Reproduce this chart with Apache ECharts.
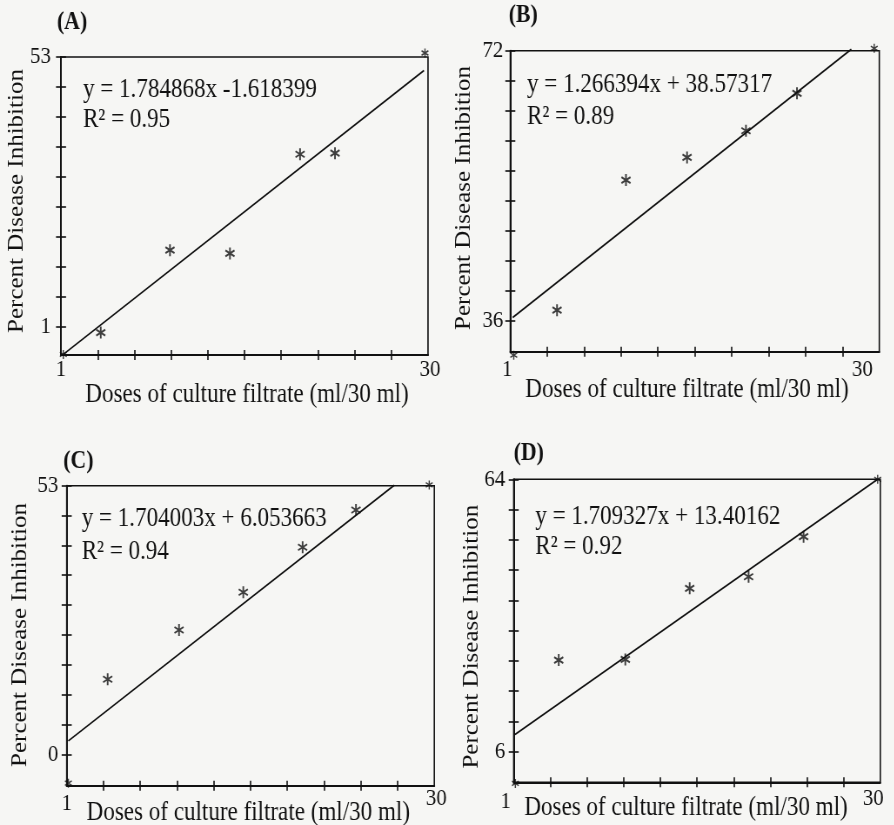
<!DOCTYPE html>
<html>
<head>
<meta charset="utf-8">
<script src="https://cdn.jsdelivr.net/npm/echarts@6/dist/echarts.min.js"></script>
<style>
html,body{margin:0;padding:0;background:#f6f6f4;overflow:hidden;}
#wrap{width:894px;height:825px;overflow:hidden;position:relative;}
#chart{height:825px;transform-origin:0 0;}
</style>
</head>
<body>
<div id="wrap"><div id="chart"></div></div>
<script>
// ---- data ----
const panelTitles = ['(A)', '(B)', '(C)', '(D)'];
const equations = ['y = 1.784868x -1.618399', 'y = 1.266394x + 38.57317', 'y = 1.704003x + 6.053663', 'y = 1.709327x + 13.40162'];
const rSquared = ['R\u00b2 = 0.95', 'R\u00b2 = 0.89', 'R\u00b2 = 0.94', 'R\u00b2 = 0.92'];

const xTickLabels = [1, 30];
const yTickLabelsA = [1, 53];
const yTickLabelsB = [36, 72];
const yTickLabelsC = [0, 53];
const yTickLabelsD = [6, 64];

const doseA = [1.18, 4.14, 9.61, 14.35, 19.89, 22.65, 29.76];
const inhibA = [-4.28, -0.09, 15.8, 15.16, 34.27, 34.47, 53.77];
const trendDoseA = [1.18, 29.68];
const trendInhibA = [-4.28, 50.41];

const doseB = [1.27, 4.67, 10.09, 14.89, 19.52, 23.53, 29.6];
const inhibB = [31.33, 37.35, 54.72, 57.75, 61.31, 66.31, 72.32];
const trendDoseB = [1.19, 27.8];
const trendInhibB = [36.37, 72.2];

const doseC = [1.13, 4.23, 9.86, 14.93, 19.61, 23.82, 29.6];
const inhibC = [-5.71, 14.81, 24.53, 31.97, 40.85, 48.21, 53.14];
const trendDoseC = [1.13, 26.84];
const trendInhibC = [2.64, 53.1];

const doseD = [1.13, 4.56, 9.83, 14.92, 19.58, 23.93, 29.79];
const inhibD = [-0.75, 25.52, 25.66, 40.79, 43.26, 51.78, 64];
const trendDoseD = [1.1, 29.79];
const trendInhibD = [9.69, 64];

const xName = 'Doses of culture filtrate (ml/30 ml)';
const yName = 'Percent Disease Inhibition';

// ---- layout ----
const S = 0.87; // horizontal squeeze of the scanned figure
const W = 894 / S;
document.getElementById('chart').style.width = W + 'px';
document.getElementById('chart').style.transform = 'scaleX(' + S + ')';

const FONT = 'Liberation Serif';
const INK = '#111111';
const STAR = 'path://M-16,-100L16,-100L16,100L-16,100Z M79,-64L95,-36L-79,64L-95,36Z M-95,-36L-79,-64L95,36L79,64Z';

const panels = [
  {dose: doseA, inhib: inhibA, tx: trendDoseA, ty: trendInhibA, yl: yTickLabelsA, yMin: -4.4, yMax: 53,
   L: 61, R: 428, T: 57, B: 355, titleXY: [57, 23], eqXY: [83, 90], r2Y: 120,
   ylMargin: 10, xl1: [0, 15], xl30: [2, 15], xNameXY: [247, 395], yNameXY: [17, 201]},
  {dose: doseB, inhib: inhibB, tx: trendDoseB, ty: trendInhibB, yl: yTickLabelsB, yMin: 31.8, yMax: 72,
   L: 510.3, R: 879.3, T: 50.7, B: 351.7, titleXY: [508.7, 16], eqXY: [527, 85], r2Y: 116.7,
   ylMargin: 7, xl1: [-3, 18.3], xl30: [-17, 18.3], xNameXY: [687, 390], yNameXY: [463.7, 198]},
  {dose: doseC, inhib: inhibC, tx: trendDoseC, ty: trendInhibC, yl: yTickLabelsC, yMin: -6.2, yMax: 53,
   L: 66.7, R: 434.3, T: 485.7, B: 785.7, titleXY: [63.3, 462], eqXY: [81.7, 518.3], r2Y: 551.7,
   ylMargin: 8.4, xl1: [0, 17.6], xl30: [2, 12.6], xNameXY: [248.3, 813], yNameXY: [20, 635]},
  {dose: doseD, inhib: inhibD, tx: trendDoseD, ty: trendInhibD, yl: yTickLabelsD, yMin: -0.5, yMax: 64,
   L: 513.7, R: 880.3, T: 479.3, B: 782.3, titleXY: [513.7, 454], eqXY: [535.3, 516.7], r2Y: 546.7,
   ylMargin: 8.4, xl1: [-8, 19.4], xl30: [-7, 16], xNameXY: [686, 808], yNameXY: [472, 636.7]}
];

const LABEL_FS = 24, XNAME_FS = 26.5, YNAME_FS = 25, EQ_FS = 26.5, TITLE_FS = 25;

function hpad(dx) {
  const p = Math.abs(dx) * 2 / S;
  return dx >= 0 ? [0, 0, 0, p] : [0, p, 0, 0];
}

const option = {
  animation: false,
  backgroundColor: '#f6f6f4',
  title: [], grid: [], xAxis: [], yAxis: [], series: []
};

panels.forEach((p, i) => {
  const xTicks = [];
  for (let k = 1; k <= 9; k++) xTicks.push(1 + k * (30 - 1) / 10);
  const yTicks = [];
  for (let k = 0; k <= 9; k++) yTicks.push(p.yl[0] + k * (p.yl[1] - p.yl[0]) / 9);

  option.title.push(
    {text: panelTitles[i], left: p.titleXY[0] / S, top: p.titleXY[1] - TITLE_FS / 2, padding: 0,
     textStyle: {fontFamily: FONT, fontSize: TITLE_FS, fontWeight: 'bold', color: INK}},
    {text: equations[i], left: p.eqXY[0] / S, top: p.eqXY[1] - EQ_FS / 2, padding: 0,
     textStyle: {fontFamily: FONT, fontSize: EQ_FS, fontWeight: 'normal', color: INK}},
    {text: rSquared[i], left: p.eqXY[0] / S, top: p.r2Y - EQ_FS / 2, padding: 0,
     textStyle: {fontFamily: FONT, fontSize: EQ_FS, fontWeight: 'normal', color: INK}}
  );

  option.grid.push({left: p.L / S, top: p.T, width: (p.R - p.L) / S, height: p.B - p.T,
    outerBoundsMode: 'none', containLabel: false,
    show: true, borderColor: INK, borderWidth: 1.6, backgroundColor: 'transparent'});

  const m = Math.min(p.xl1[1], p.xl30[1]) - LABEL_FS / 2;
  const pad1 = hpad(p.xl1[0]); pad1[0] = p.xl1[1] - LABEL_FS / 2 - m;
  const pad30 = hpad(p.xl30[0]); pad30[0] = p.xl30[1] - LABEL_FS / 2 - m;
  const xCenter = (p.L + p.R) / 2;
  const xNamePad = hpad(p.xNameXY[0] - xCenter);

  option.xAxis.push({
    type: 'value', gridIndex: i, position: 'bottom', min: 1, max: 30,
    axisLine: {show: true, onZero: false, lineStyle: {color: INK, width: 2}},
    axisTick: {show: true, inside: false, length: 5, customValues: xTicks, lineStyle: {color: INK, width: 1.6}},
    splitLine: {show: false},
    axisLabel: {show: false},
    name: xName, nameLocation: 'middle', nameGap: p.xNameXY[1] - p.B - XNAME_FS / 2,
    nameTextStyle: {fontFamily: FONT, fontSize: XNAME_FS, color: INK, padding: xNamePad, verticalAlign: 'top'}
  }, {
    type: 'value', gridIndex: i, position: 'bottom', min: 1, max: 30,
    axisLine: {show: false, onZero: false},
    axisTick: {show: true, inside: true, length: 5, customValues: xTicks, lineStyle: {color: INK, width: 1.6}},
    splitLine: {show: false},
    axisLabel: {customValues: xTickLabels, margin: m, color: INK, fontFamily: FONT, fontSize: LABEL_FS,
      formatter: v => (v === 1 ? '{a|1}' : '{b|30}'),
      rich: {a: {fontFamily: FONT, fontSize: LABEL_FS, color: INK, padding: pad1},
             b: {fontFamily: FONT, fontSize: LABEL_FS, color: INK, padding: pad30}}}
  });

  const yCenter = (p.T + p.B) / 2;
  const dy = yCenter - p.yNameXY[1];
  const yNamePad = dy >= 0 ? [0, 0, 0, 2 * dy] : [0, -2 * dy, 0, 0];
  option.yAxis.push({
    type: 'value', gridIndex: i, position: 'left', min: p.yMin, max: p.yMax,
    axisLine: {show: true, onZero: false, lineStyle: {color: INK, width: 2}},
    axisTick: {show: true, inside: false, length: 5 / S, customValues: yTicks, lineStyle: {color: INK, width: 1.6}},
    splitLine: {show: false},
    axisLabel: {show: false},
    name: yName, nameLocation: 'middle', nameGap: (p.L - p.yNameXY[0]) / S - YNAME_FS / 2,
    nameTextStyle: {fontFamily: FONT, fontSize: YNAME_FS, color: INK, padding: yNamePad}
  }, {
    type: 'value', gridIndex: i, position: 'left', min: p.yMin, max: p.yMax,
    axisLine: {show: false, onZero: false},
    axisTick: {show: true, inside: true, length: 5 / S, customValues: yTicks, lineStyle: {color: INK, width: 1.6}},
    splitLine: {show: false},
    axisLabel: {customValues: p.yl, margin: p.ylMargin / S, color: INK, fontFamily: FONT, fontSize: LABEL_FS}
  });

  const pts = p.dose.map((d, k) => ({value: [d, p.inhib[k]],
    symbolSize: (k === 0 || k === p.dose.length - 1) ? 9 : 12}));
  option.series.push({
    type: 'line', xAxisIndex: 2 * i, yAxisIndex: 2 * i, data: p.tx.map((d, k) => [d, p.ty[k]]),
    symbol: 'none', lineStyle: {color: INK, width: 1.7}, clip: false, silent: true, z: 3
  }, {
    type: 'scatter', xAxisIndex: 2 * i, yAxisIndex: 2 * i, data: pts,
    symbol: STAR, symbolKeepAspect: true, itemStyle: {color: INK}, clip: false, silent: true, z: 4
  });
});

const chart = echarts.init(document.getElementById('chart'), null, {renderer: 'canvas'});
chart.setOption(option);
</script>
</body>
</html>
